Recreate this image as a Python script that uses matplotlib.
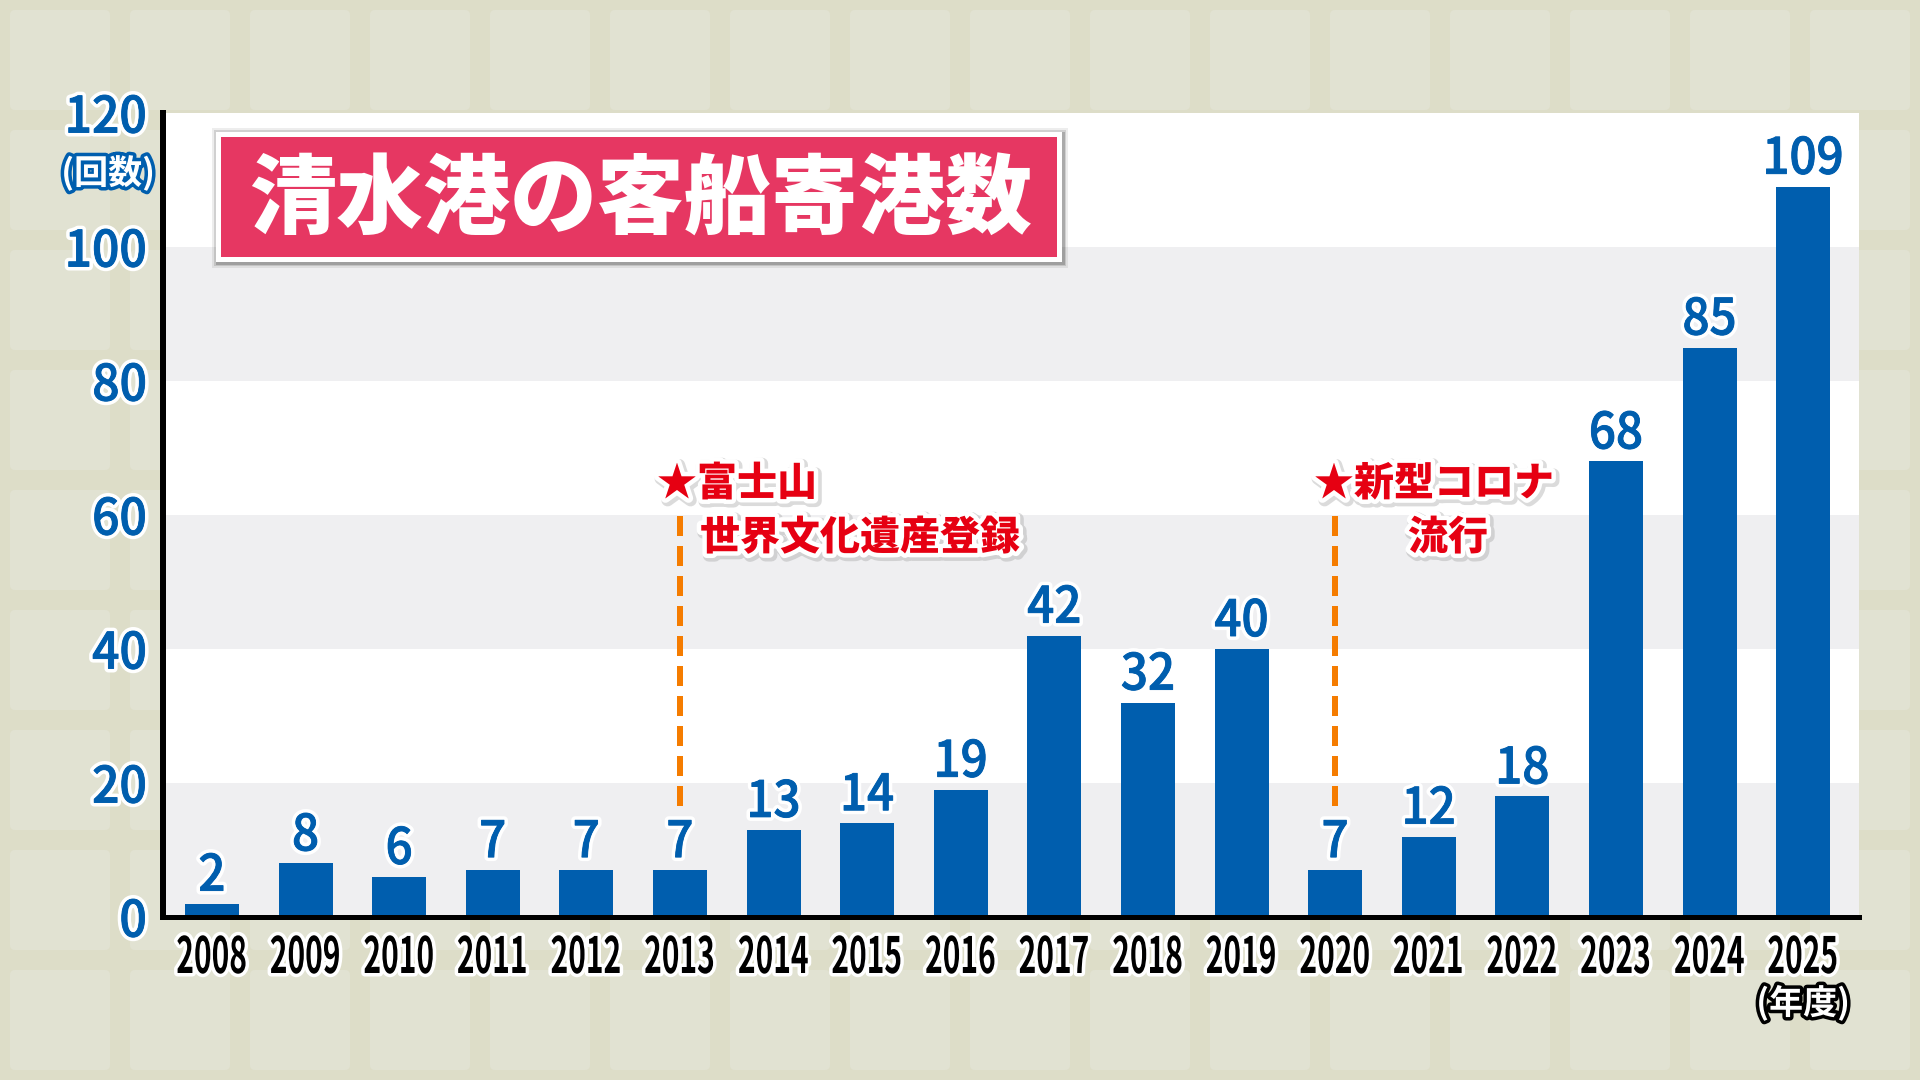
import matplotlib
matplotlib.use("Agg")
import matplotlib.pyplot as plt
import matplotlib.patheffects as pe
from matplotlib.patches import FancyBboxPatch, Rectangle
from matplotlib.transforms import Affine2D, IdentityTransform

years = ["2008","2009","2010","2011","2012","2013","2014","2015","2016","2017","2018","2019","2020","2021","2022","2023","2024","2025"]
counts = [2,8,6,7,7,7,13,14,19,42,32,40,7,12,18,68,85,109]
yticks = [0,20,40,60,80,100,120]
grey_bands = [(0,20),(40,60),(80,100)]
events = [(5,"★富士山","世界文化遺産登録"),(12,"★新型コロナ","流行")]
event_line_top = 60
event_line_bottom = 16.5
title = "清水港の客船寄港数"

W, H = 1920, 1080
BLUE = "#005EAE"
RED = "#E60012"
JP = ["Noto Sans CJK JP", "DejaVu Sans"]
plt.rcParams["font.family"] = JP
px = lambda v: v * 0.72


class Squeeze(pe.AbstractPathEffect):
    """Reshape the glyphs horizontally and vertically, keeping them as real text."""
    def __init__(self, sx, inner, anchor="center", sy=1.0):
        super().__init__()
        self.sx, self.sy, self.inner = sx, sy, inner
        self.k = {"center": 0.5, "right": 1.0, "left": 0.0}[anchor]

    def draw_path(self, renderer, gc, tpath, affine, rgbFace=None):
        w = tpath.get_extents(affine).width
        a = (Affine2D().scale(self.sx, self.sy) + affine
             + Affine2D().translate((1 - self.sx) * w * self.k, 0))
        self.inner.draw_path(renderer, gc, tpath, a, rgbFace)


def squeezed(sx, lw, ec, anchor="center", sy=1.0, fg=None, thicken=0.0):
    fx = [Squeeze(sx, pe.Stroke(linewidth=px(lw), foreground=ec), anchor, sy)]
    if thicken:
        fx.append(Squeeze(sx, pe.Stroke(linewidth=px(thicken), foreground=fg), anchor, sy))
    fx.append(Squeeze(sx, pe.Normal(), anchor, sy))
    return fx


fig = plt.figure(figsize=(W / 100, H / 100), dpi=100, facecolor="#DDDDC8")

# tiled background
for r in range(9):
    for c in range(16):
        fig.add_artist(FancyBboxPatch((10 + 120 * c, H - 110 - 120 * r), 100, 100,
                                      boxstyle="round,pad=0,rounding_size=5",
                                      fc="#E1E2D2", ec="none", transform=IdentityTransform(), zorder=-5))

L, R, T, B = 163, 1859, 113, 917
ax = fig.add_axes([L / W, 1 - B / H, (R - L) / W, (B - T) / H], facecolor="white")
ax.set_xlim((L - 212) / 93.6, (R - 212) / 93.6)
ax.set_ylim(0, 120)

for a, b in grey_bands:
    ax.axhspan(a, b, fc="#EFEFF1", ec="none", zorder=0)

x = list(range(len(years)))
ax.bar(x, counts, width=54 / 93.6, color=BLUE, zorder=2)

for xi, v in zip(x, counts):
    ax.annotate(str(v), (xi, v), xytext=(0, px(13)), textcoords="offset points",
                ha="center", va="baseline", color=BLUE, fontsize=px(50), fontweight="medium",
                path_effects=squeezed(0.95, 8, "white", fg=BLUE, thicken=0.9), zorder=5)

for s in ("top", "right"):
    ax.spines[s].set_visible(False)
ax.spines["left"].set_linewidth(px(6))
ax.spines["bottom"].set_linewidth(px(5))
ax.spines["left"].set_capstyle("projecting")
ax.spines["bottom"].set_capstyle("projecting")

ax.set_yticks(yticks)
ax.set_yticklabels([str(t) for t in yticks])
ax.set_xticks(x)
ax.set_xticklabels(years)
ax.tick_params(axis="both", length=0)
ax.tick_params(axis="y", pad=px(16), labelcolor=BLUE, labelsize=px(50))
ax.tick_params(axis="x", pad=px(23), labelcolor="black", labelsize=px(41))
for t in ax.get_yticklabels():
    t.set_fontweight("medium")
    t.set_path_effects(squeezed(0.96, 8, "white", "right", fg=BLUE, thicken=0.9))
for t in ax.get_xticklabels():
    t.set_fontweight("bold")
    t.set_path_effects(squeezed(0.73, 7, "white", sy=1.22))

# event markers
for pos, line1, line2 in events:
    ax.plot([pos, pos], [event_line_bottom, event_line_top], color="#F57C00", lw=px(6),
            linestyle=(0, (20 / 6, 10 / 6)), dash_capstyle="butt", zorder=3)

annot_fx = [pe.Stroke(linewidth=px(12), foreground="#999999", alpha=0.35, offset=(1.5, -1.5)),
            pe.Stroke(linewidth=px(9), foreground="white"), pe.Normal()]
def label(xp, yp, s, **kw):
    fig.text(xp / W, 1 - yp / H, s, color=RED, fontsize=px(40), fontweight="black",
             va="center", path_effects=annot_fx, zorder=10, **kw)

label(657, 484, events[0][1], ha="left")
label(700, 538, events[0][2], ha="left")
label(1314, 484, events[1][1], ha="left")
label(1448, 538, events[1][2], ha="center")

# unit labels
fig.text(108 / W, 1 - 173 / H, "(回数)", ha="center", va="center", color="white",
         fontsize=px(34), fontweight="bold",
         path_effects=[pe.Stroke(linewidth=px(7), foreground=BLUE), pe.Normal()], zorder=10)
fig.text(1803 / W, 1 - 1003 / H, "(年度)", ha="center", va="center", color="white",
         fontsize=px(34), fontweight="bold",
         path_effects=[pe.Stroke(linewidth=px(7), foreground="black"), pe.Normal()], zorder=10)

# title box
tf = IdentityTransform()
for grow, alpha in ((5, 0.07), (3, 0.12), (1.5, 0.18)):
    fig.add_artist(Rectangle((216 - grow + 1, H - 262 - grow - 1), 846 + 2 * grow, 130 + 2 * grow,
                             fc="black", ec="none", alpha=alpha, transform=tf, zorder=8))
fig.add_artist(Rectangle((216, H - 262), 846, 130, fc="white", ec="none", transform=tf, zorder=9))
fig.add_artist(Rectangle((221, H - 257), 836, 120, fc="#E63762", ec="none", transform=tf, zorder=9))
fig.text(641 / W, 1 - 202 / H, title, ha="center", va="center", color="white",
         fontsize=px(87), fontweight="black", zorder=11)

fig.savefig("out.png", dpi=100, facecolor=fig.get_facecolor())
